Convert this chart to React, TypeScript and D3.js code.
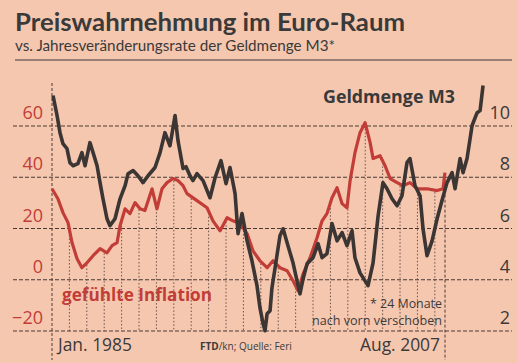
import React from "react";
import * as d3 from "d3";

// Geldmenge M3 (Jahresveränderungsrate, %, 24 Monate nach vorn verschoben) – right axis
const m3Dates = [
  1985.06, 1985.29, 1985.46, 1985.63, 1985.86, 1986.03, 1986.21, 1986.49, 1986.72, 1986.9,
  1987.18, 1987.36, 1987.59, 1987.76, 1987.93, 1988.16, 1988.33, 1988.62, 1988.91, 1989.2,
  1989.37, 1989.66, 1989.94, 1990.23, 1990.52, 1990.92, 1991.21, 1991.49, 1991.78, 1992.07,
  1992.24, 1992.53, 1992.7, 1992.93, 1993.1, 1993.33, 1993.68, 1994.08, 1994.37, 1994.71,
  1995.0, 1995.23, 1995.52, 1995.69, 1995.92, 1996.21, 1996.49, 1996.78, 1996.95, 1997.13,
  1997.24, 1997.36, 1997.53, 1997.64, 1997.82, 1998.1, 1998.28, 1998.56, 1998.85, 1999.08,
  1999.25, 1999.43, 1999.66, 2000.0, 2000.29, 2000.52, 2000.8, 2001.09, 2001.38, 2001.67,
  2001.95, 2002.24, 2002.41, 2002.7, 2003.16, 2003.45, 2003.74, 2004.02, 2004.25, 2004.54,
  2004.83, 2005.11, 2005.4, 2005.57, 2005.86, 2006.15, 2006.32, 2006.55, 2006.84, 2007.13,
  2007.41, 2007.7, 2007.99, 2008.16, 2008.45, 2008.62, 2008.85, 2009.14, 2009.43, 2009.6,
  2009.77,
];
const m3Values = [
  11.19, 10.41, 9.74, 9.31, 9.12, 8.57, 8.45, 8.53, 8.96, 8.45,
  9.35, 8.96, 8.45, 7.79, 7.16, 6.38, 6.11, 6.38, 7.16, 7.67,
  8.14, 8.26, 8.06, 7.79, 8.06, 8.38, 8.96, 9.74, 9.23, 10.41,
  9.43, 8.34, 8.41, 8.06, 7.87, 8.14, 7.87, 7.2, 7.98, 8.65,
  7.75, 8.38, 7.36, 5.8, 6.58, 5.52, 4.74, 3.77, 2.91, 2.28,
  2.01, 2.67, 2.79, 3.69, 4.47, 5.72, 5.99, 5.33, 4.66, 3.96,
  3.45, 4.04, 4.63, 4.86, 5.41, 4.86, 5.02, 6.19, 5.52, 5.84,
  5.33, 5.91, 4.86, 4.27, 3.77, 4.66, 6.5, 7.79, 7.55, 7.16,
  6.89, 7.28, 8.57, 8.73, 7.67, 7.28, 5.99, 4.94, 5.52, 6.38,
  7.09, 7.79, 8.18, 7.55, 8.73, 8.18, 8.73, 10.02, 10.52, 10.6,
  11.58,
];

// gefühlte Inflation (Saldo) – left axis
const inflDates = [
  1985.0, 1985.34, 1985.63, 1985.92, 1986.15, 1986.44, 1986.72, 1987.01, 1987.36, 1987.76,
  1988.16, 1988.45, 1988.74, 1988.91, 1989.2, 1989.48, 1989.77, 1990.06, 1990.34, 1990.75,
  1991.03, 1991.32, 1991.61, 1991.95, 1992.24, 1992.53, 1992.76, 1993.33, 1993.91, 1994.25,
  1994.66, 1995.06, 1995.4, 1995.8, 1996.21, 1996.55, 1996.95, 1997.36, 1997.7, 1998.1,
  1998.51, 1998.85, 1999.14, 1999.43, 1999.83, 2000.23, 2000.52, 2000.8, 2001.09, 2001.38,
  2001.67, 2001.95, 2002.13, 2002.41, 2002.7, 2002.99, 2003.28, 2003.45, 2003.85, 2004.14,
  2004.43, 2004.83, 2005.17, 2005.57, 2005.98, 2006.55, 2007.13, 2007.47, 2007.58,
];
const inflValues = [
  35.5, 31.6, 26.2, 22.3, 14.5, 8.2, 4.7, 6.6, 9.4, 12.1,
  10.5, 13.3, 14.5, 21.1, 27.7, 25.8, 30.1, 27.7, 27.0, 35.5,
  27.7, 35.5, 37.9, 39.5, 38.7, 36.7, 33.6, 30.9, 28.1, 23.0,
  19.1, 24.2, 23.0, 21.9, 18.0, 11.3, 7.4, 4.7, 7.4, 4.7,
  3.5, -0.4, -4.3, 2.3, 8.6, 16.4, 23.0, 25.8, 32.0, 35.9,
  29.7, 28.1, 38.7, 49.6, 57.4, 61.3, 53.5, 47.3, 48.4, 44.5,
  39.5, 37.9, 36.7, 37.9, 35.5, 35.5, 34.8, 35.5, 41.8,
];

const leftTicks = [60, 40, 20, 0, -20];
const rightTicks = [10, 8, 6, 4, 2];
const yearTicks = d3.range(1986, 2008);

const BG = "#f6c7af";
const RED = "#c23d37";
const DARK = "#3b3533";
const FONT = "'Open Sans', 'DejaVu Sans', sans-serif";
const HEAD_FONT = "Lato, 'Open Sans', sans-serif";

export default function App() {
  const W = 517;
  const H = 363;
  const x = d3.scaleLinear().domain([1985, 2007 + 7 / 12]).range([52, 445]);
  const yL = d3.scaleLinear().domain([-20, 60]).range([331, 126]);
  const yR = d3.scaleLinear().domain([2, 10]).range([331, 126]);

  const m3 = m3Dates.map((d, i) => [d, m3Values[i]] as [number, number]);
  const infl = inflDates.map((d, i) => [d, inflValues[i]] as [number, number]);

  const m3Line = d3
    .line<[number, number]>()
    .x((d) => x(d[0]))
    .y((d) => yR(d[1]));
  const inflLine = d3
    .line<[number, number]>()
    .x((d) => x(d[0]))
    .y((d) => yL(d[1]));

  const inflAt = (t: number) => {
    const i = d3.bisector((d: [number, number]) => d[0]).left(infl, t);
    if (i <= 0) return infl[0][1];
    if (i >= infl.length) return infl[infl.length - 1][1];
    const a = infl[i - 1];
    const b = infl[i];
    return a[1] + ((b[1] - a[1]) * (t - a[0])) / (b[0] - a[0]);
  };

  const endT = 2007 + 7 / 12;

  return (
    <svg
      width={W}
      height={H}
      style={{ position: "absolute", left: 0, top: 0, display: "block" }}
      fontFamily={FONT}
    >
      <rect x={0} y={0} width={W} height={H} fill={BG} />

      {/* Title */}
      <text x={15} y={31} fontFamily={HEAD_FONT} fontSize={25} fontWeight={700} fill="#3a3a3a" textLength={390} lengthAdjust="spacingAndGlyphs">
        Preiswahrnehmung im Euro-Raum
      </text>
      <text x={15} y={51} fontFamily={HEAD_FONT} fontSize={16} fill="#3a3a3a" textLength={320} lengthAdjust="spacingAndGlyphs">
        vs. Jahresveränderungsrate der Geldmenge M3*
      </text>
      <line x1={15} x2={512} y1={60} y2={60} stroke="#3a3a3a" strokeWidth={1.2} />

      {/* horizontal grid */}
      {leftTicks.map((t) => (
        <line
          key={"g" + t}
          x1={13}
          x2={512}
          y1={yL(t)}
          y2={yL(t)}
          stroke="#4a3a35"
          strokeWidth={1.1}
          strokeDasharray="4 2"
        />
      ))}

      {/* year drop lines below red curve */}
      {yearTicks.map((yr) => (
        <line
          key={"v" + yr}
          x1={x(yr)}
          x2={x(yr)}
          y1={yL(inflAt(yr)) + 2}
          y2={yL(-20)}
          stroke="#5a4540"
          strokeWidth={0.9}
          strokeDasharray="1.5 2"
        />
      ))}
      <line x1={x(1985)} x2={x(1985)} y1={83} y2={360} stroke="#4a3a35" strokeWidth={1} strokeDasharray="3 2" />
      <line x1={x(endT)} x2={x(endT)} y1={yL(inflAt(endT)) + 2} y2={360} stroke="#4a3a35" strokeWidth={1} strokeDasharray="3 2" />

      {/* left axis labels */}
      {leftTicks.map((t) => (
        <text key={"l" + t} x={43} y={yL(t) - 7} fontSize={18} fill={RED} textAnchor="end">
          {t < 0 ? "\u2212" + Math.abs(t) : t}
        </text>
      ))}
      {/* right axis labels */}
      {rightTicks.map((t) => (
        <text key={"r" + t} x={510} y={yR(t) - 7} fontSize={18} fill="#3a3a3a" textAnchor="end">
          {t}
        </text>
      ))}

      {/* series */}
      <path d={inflLine(infl) || ""} fill="none" stroke={RED} strokeWidth={3.2} strokeLinejoin="round" />
      <path d={m3Line(m3) || ""} fill="none" stroke={DARK} strokeWidth={3.6} strokeLinejoin="round" />

      {/* labels */}
      <text x={323} y={103} fontSize={17} fontWeight={700} fill="#3a3a3a" textLength={132} lengthAdjust="spacingAndGlyphs">
        Geldmenge M3
      </text>
      <text x={62} y={301} fontSize={17} fontWeight={700} fill={RED} textLength={150} lengthAdjust="spacingAndGlyphs">
        gefühlte Inflation
      </text>
      <text x={442} y={308} fontSize={12} fill="#3a3a3a" textAnchor="end" textLength={72} lengthAdjust="spacingAndGlyphs">
        * 24 Monate
      </text>
      <text x={442} y={325} fontSize={12} fill="#3a3a3a" textAnchor="end" textLength={130} lengthAdjust="spacingAndGlyphs">
        nach vorn verschoben
      </text>
      <text x={58} y={351} fontSize={18} fill="#3a3a3a" textLength={74} lengthAdjust="spacingAndGlyphs">
        Jan. 1985
      </text>
      <text x={440} y={351} fontSize={18} fill="#3a3a3a" textAnchor="end" textLength={80} lengthAdjust="spacingAndGlyphs">
        Aug. 2007
      </text>
      <text x={200} y={350} fontSize={10} fill="#3a3a3a">
        <tspan fontWeight={700}>FTD</tspan>
        <tspan>/kn; Quelle: Feri</tspan>
      </text>
    </svg>
  );
}
